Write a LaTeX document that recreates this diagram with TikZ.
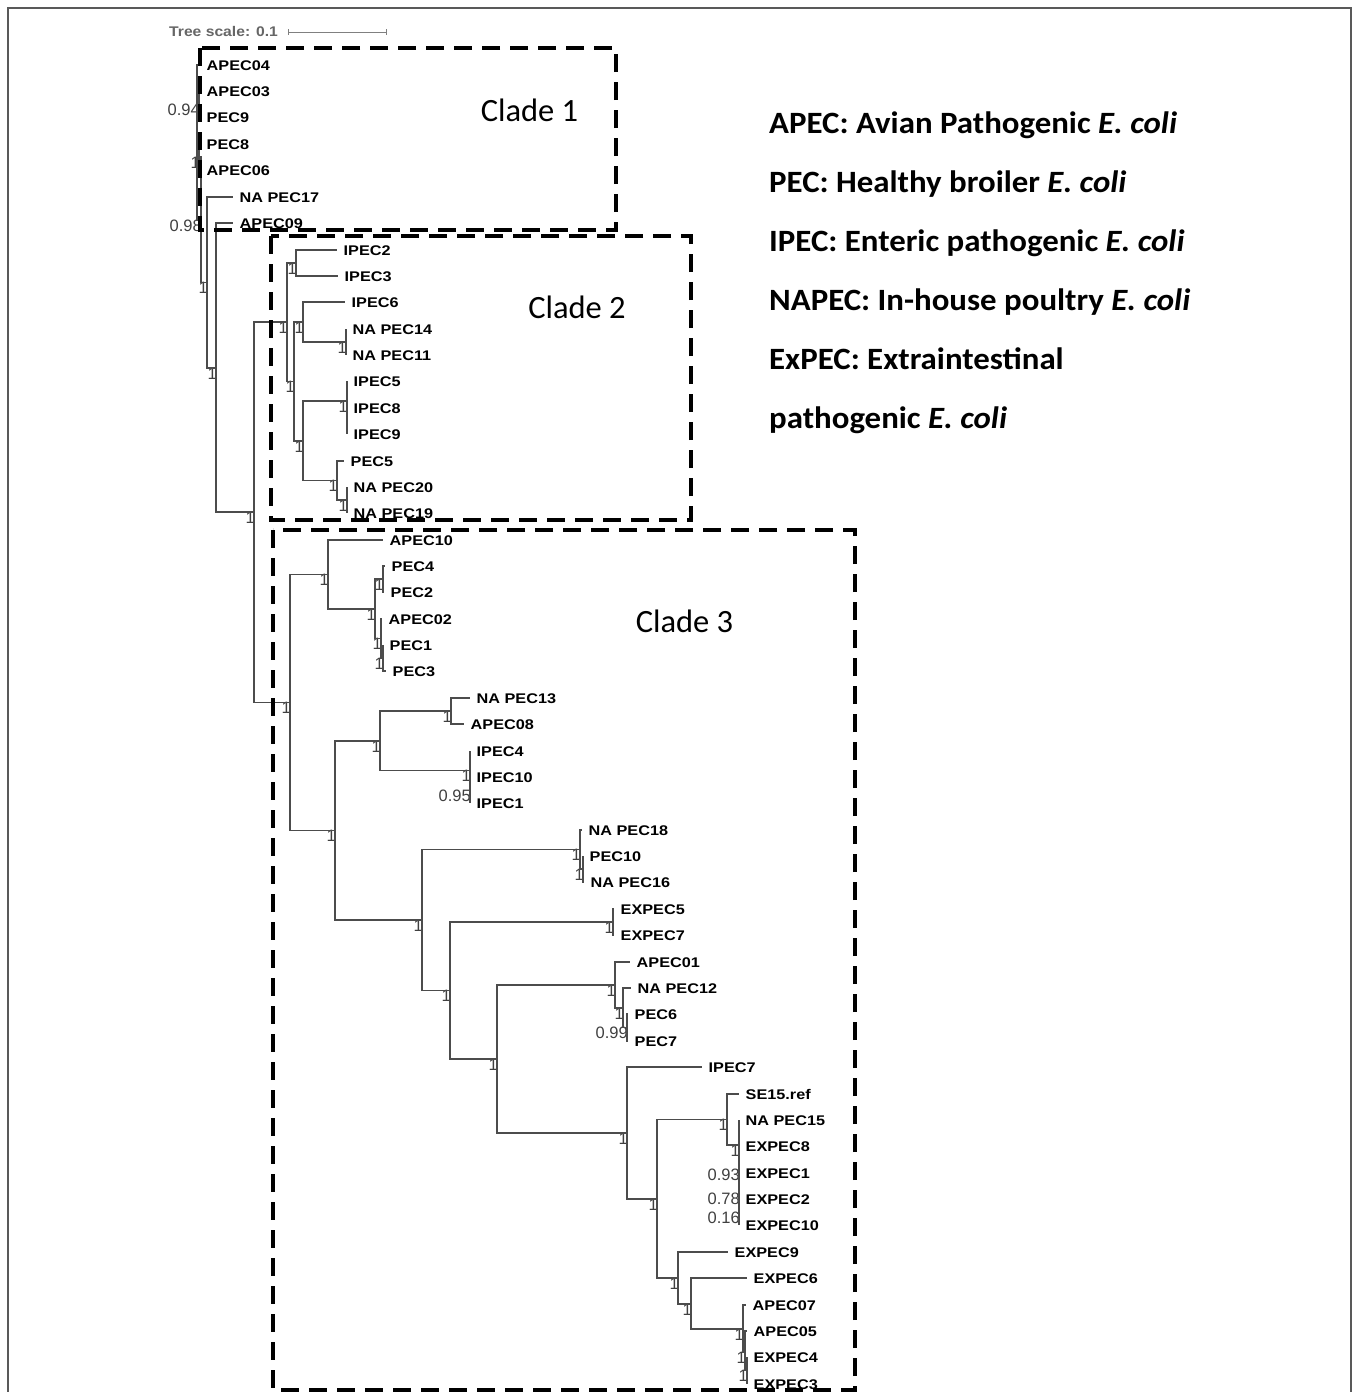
\documentclass[tikz,border=0pt]{standalone}
\usepackage{fontspec}
\newfontfamily\leaffont[FakeStretch=1.16]{Liberation Sans}
\newfontfamily\scalefont[FakeStretch=1.12]{Liberation Sans}
\newfontfamily\supfont{Liberation Sans}
\newfontfamily\calfont{Carlito}
\newfontfamily\legfont[FakeStretch=1.06]{Carlito}
\newcommand\lf[4]{\coordinate (#1) at (#2,#3); \node[leaf] (#1L) at ([xshift=6.5pt]#1) {#4};}
\newcommand\inn[4]{\coordinate (#1) at (#2,#3); \node[supp] (#1S) at ([xshift=1pt]#1) {#4};}
\newcommand\br[2]{\draw[branch] (#1) |- (#2);}
\begin{document}
\begin{tikzpicture}[x=1pt,y=-1pt,
  branch/.style={draw=black!70, line width=1.2pt},
  leaf/.style={anchor=west, inner sep=0pt, font=\leaffont\bfseries\fontsize{14}{14}\selectfont, text height=10pt, text depth=0pt},
  supp/.style={anchor=north east, inner sep=0pt, font=\supfont\fontsize{16.5}{16.5}\selectfont, text=black!75, text height=11pt, text depth=0pt},
  cladebox/.style={draw=black, line width=4pt, dash pattern=on 18pt off 10pt},
  legend/.style={anchor=base west, inner sep=0pt, font=\legfont\bfseries\fontsize{31}{31}\selectfont},
  cladelabel/.style={inner sep=0pt, font=\calfont\fontsize{32.5}{32.5}\selectfont}]
\useasboundingbox (0,0) rectangle (1360,1392);
% outer frame
\draw[black!65, line width=2pt] (8,1392) -- (8,8) -- (1351,8) -- (1351,1392);
% tree scale
\node[anchor=west, inner sep=0pt, font=\scalefont\bfseries\fontsize{14}{14}\selectfont, text=black!60] (ts) at (169,31) {Tree scale: 0.1};
\coordinate (sb1) at (288,32); \coordinate (sb2) at (386,32);
\draw[black!50, line width=1pt] (sb1) -- (sb2);
\draw[black!50, line width=1pt] ([yshift=3pt]sb1) -- ([yshift=-3pt]sb1);
\draw[black!50, line width=1pt] ([yshift=3pt]sb2) -- ([yshift=-3pt]sb2);
% leaves
\lf{l0}{200}{65}{APEC04}
\lf{l1}{200}{91}{APEC03}
\lf{l2}{200}{117}{PEC9}
\lf{l3}{200}{144}{PEC8}
\lf{l4}{200}{170}{APEC06}
\lf{l5}{233}{197}{NA PEC17}
\lf{l6}{233}{223}{APEC09}
\lf{l7}{337}{250}{IPEC2}
\lf{l8}{338}{276}{IPEC3}
\lf{l9}{345}{302}{IPEC6}
\lf{l10}{346}{329}{NA PEC14}
\lf{l11}{346}{355}{NA PEC11}
\lf{l12}{347}{381}{IPEC5}
\lf{l13}{347}{408}{IPEC8}
\lf{l14}{347}{434}{IPEC9}
\lf{l15}{344}{461}{PEC5}
\lf{l16}{347}{487}{NA PEC20}
\lf{l17}{347}{513}{NA PEC19}
\lf{l18}{383}{540}{APEC10}
\lf{l19}{385}{566}{PEC4}
\lf{l20}{384}{592}{PEC2}
\lf{l21}{382}{619}{APEC02}
\lf{l22}{383}{645}{PEC1}
\lf{l23}{386}{671}{PEC3}
\lf{l24}{470}{698}{NA PEC13}
\lf{l25}{464}{724}{APEC08}
\lf{l26}{470}{751}{IPEC4}
\lf{l27}{470}{777}{IPEC10}
\lf{l28}{470}{803}{IPEC1}
\lf{l29}{582}{830}{NA PEC18}
\lf{l30}{583}{856}{PEC10}
\lf{l31}{584}{882}{NA PEC16}
\lf{l32}{614}{909}{EXPEC5}
\lf{l33}{614}{935}{EXPEC7}
\lf{l34}{630}{962}{APEC01}
\lf{l35}{631}{988}{NA PEC12}
\lf{l36}{628}{1014}{PEC6}
\lf{l37}{628}{1041}{PEC7}
\lf{l38}{702}{1067}{IPEC7}
\lf{l39}{739}{1094}{SE15.ref}
\lf{l40}{739}{1120}{NA PEC15}
\lf{l41}{739}{1146}{EXPEC8}
\lf{l42}{739}{1173}{EXPEC1}
\lf{l43}{739}{1199}{EXPEC2}
\lf{l44}{739}{1225}{EXPEC10}
\lf{l45}{728}{1252}{EXPEC9}
\lf{l46}{747}{1278}{EXPEC6}
\lf{l47}{746}{1305}{APEC07}
\lf{l48}{747}{1331}{APEC05}
\lf{l49}{747}{1357}{EXPEC4}
\lf{l50}{747}{1384}{EXPEC3}
% internal nodes
\coordinate (R0) at (197,142);
\inn{A}{199}{104}{0.94}
\inn{B}{199}{157}{1}
\inn{C}{201}{220}{0.98}
\inn{N17}{207}{282.5}{1}
\inn{M}{216}{368}{1}
\inn{P}{254}{512}{1}
\inn{K2}{287}{322}{1}
\inn{I23}{296}{263}{1}
\inn{S}{294}{381.5}{1}
\inn{T}{303}{322}{1}
\inn{U}{346}{342}{1}
\inn{V}{303}{441}{1}
\inn{W}{347}{401}{1}
\coordinate (W2) at (347,421);
\inn{X}{337}{480.5}{1}
\inn{Y}{347}{500}{1}
\inn{K3}{290}{702.5}{1}
\inn{AA}{328}{574.5}{1}
\inn{CC}{375}{609}{1}
\inn{DD}{383}{579}{1}
\inn{EE}{381}{638.5}{1}
\inn{FF}{383}{658}{1}
\inn{BB}{335}{830.5}{1}
\inn{HH}{380}{741}{1}
\inn{II}{451}{711}{1}
\inn{JJ}{470}{770.5}{1}
\inn{KK}{470}{790}{0.95}
\inn{LL}{422}{920}{1}
\inn{MM}{580}{849.5}{1}
\inn{NN}{583}{869}{1}
\inn{OO}{450}{990.5}{1}
\inn{PP}{613}{922}{1}
\inn{QQ}{497}{1059}{1}
\inn{RR}{615}{985}{1}
\inn{SS}{623}{1008}{1}
\inn{TT}{627}{1027.5}{0.99}
\inn{UU}{627}{1133}{1}
\inn{VV}{657}{1199}{1}
\inn{WW}{727}{1119.5}{1}
\inn{Dd}{739}{1145}{1}
\inn{Cc}{739}{1169.5}{0.93}
\inn{Bb}{739}{1193}{0.78}
\inn{Ab}{739}{1212}{0.16}
\inn{ZZ}{678}{1278}{1}
\inn{Z2}{691}{1304}{1}
\inn{Gg}{743}{1329}{1}
\inn{Ff}{745}{1352}{1}
\inn{Ee}{747}{1370.5}{1}
% branches
\br{R0}{l0}\br{R0}{A}\br{R0}{C}
\br{A}{l1}\br{A}{l2}
\br{B}{l3}\br{B}{l4}
\br{C}{B}\br{C}{N17}
\br{N17}{l5}\br{N17}{M}
\br{M}{l6}\br{M}{P}
\br{P}{K2}\br{P}{K3}
\br{K2}{I23}\br{K2}{S}
\br{I23}{l7}\br{I23}{l8}
\br{S}{T}\br{S}{V}
\br{T}{l9}\br{T}{U}
\br{U}{l10}\br{U}{l11}
\br{V}{W}\br{V}{X}
\br{W}{l12}\br{W}{W2}
\br{W2}{l13}\br{W2}{l14}
\br{X}{l15}\br{X}{Y}
\br{Y}{l16}\br{Y}{l17}
\br{K3}{AA}\br{K3}{BB}
\br{AA}{l18}\br{AA}{CC}
\br{CC}{DD}\br{CC}{EE}
\br{DD}{l19}\br{DD}{l20}
\br{EE}{l21}\br{EE}{FF}
\br{FF}{l22}\br{FF}{l23}
\br{BB}{HH}\br{BB}{LL}
\br{HH}{II}\br{HH}{JJ}
\br{II}{l24}\br{II}{l25}
\br{JJ}{l26}\br{JJ}{KK}
\br{KK}{l27}\br{KK}{l28}
\br{LL}{MM}\br{LL}{OO}
\br{MM}{l29}\br{MM}{NN}
\br{NN}{l30}\br{NN}{l31}
\br{OO}{PP}\br{OO}{QQ}
\br{PP}{l32}\br{PP}{l33}
\br{QQ}{RR}\br{QQ}{UU}
\br{RR}{l34}\br{RR}{SS}
\br{SS}{l35}\br{SS}{TT}
\br{TT}{l36}\br{TT}{l37}
\br{UU}{l38}\br{UU}{VV}
\br{VV}{WW}\br{VV}{ZZ}
\br{WW}{l39}\br{WW}{Dd}
\br{Dd}{l40}\br{Dd}{Cc}
\br{Cc}{l41}\br{Cc}{Bb}
\br{Bb}{l42}\br{Bb}{Ab}
\br{Ab}{l43}\br{Ab}{l44}
\br{ZZ}{l45}\br{ZZ}{Z2}
\br{Z2}{l46}\br{Z2}{Gg}
\br{Gg}{l47}\br{Gg}{Ff}
\br{Ff}{l48}\br{Ff}{Ee}
\br{Ee}{l49}\br{Ee}{l50}
% clade boxes
\draw[cladebox] (200,48) rectangle (616,230);
\draw[cladebox] (271,236) rectangle (691,520);
\draw[cladebox] (273,530) rectangle (855,1390);
\node[cladelabel] (c1) at (529.5,110) {Clade 1};
\node[cladelabel] (c2) at (577,307) {Clade 2};
\node[cladelabel] (c3) at (684.5,621) {Clade 3};
% legend
\node[legend] (g1) at (769,133) {APEC: Avian Pathogenic \textit{E. coli}};
\node[legend] (g2) at (769,192) {PEC: Healthy broiler \textit{E. coli}};
\node[legend] (g3) at (769,251) {IPEC: Enteric pathogenic \textit{E. coli}};
\node[legend] (g4) at (769,310) {NAPEC: In-house poultry \textit{E. coli}};
\node[legend] (g5) at (769,369) {ExPEC: Extraintestinal};
\node[legend] (g6) at (769,428) {pathogenic \textit{E. coli}};
\end{tikzpicture}
\end{document}
